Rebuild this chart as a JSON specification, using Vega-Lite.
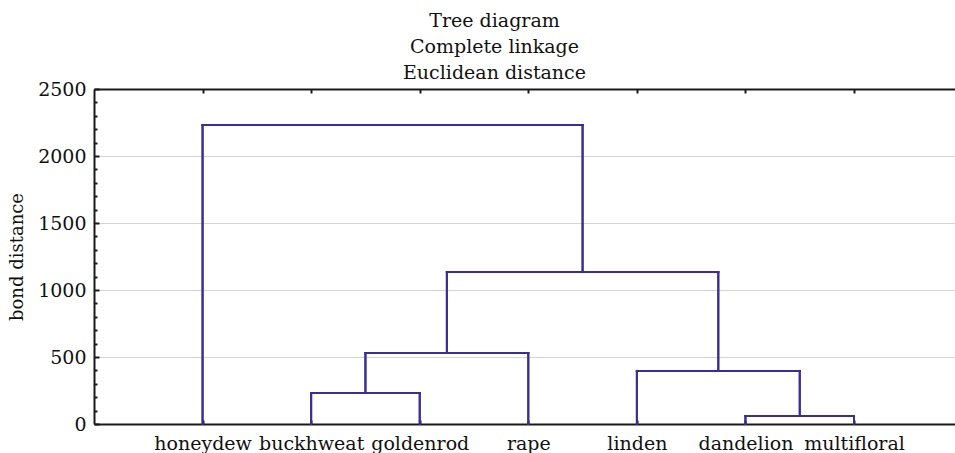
{
  "$schema": "https://vega.github.io/schema/vega-lite/v6.json",
  "width": 861,
  "height": 335,
  "autosize": {"type": "none"},
  "padding": {"left": 94, "top": 89, "right": 0, "bottom": 29},
  "background": "white",
  "config": {
    "font": "DejaVu Serif",
    "view": {"stroke": null},
    "axis": {"labelFont": "DejaVu Serif", "titleFont": "DejaVu Serif", "labelColor": "#111", "titleColor": "#111"}
  },
  "title": {
    "text": ["Tree diagram", "Complete linkage", "Euclidean distance"],
    "fontSize": 19,
    "fontWeight": "normal",
    "font": "DejaVu Serif",
    "color": "#111",
    "lineHeight": 26,
    "anchor": "middle",
    "dx": -30,
    "offset": -3
  },
  "data": {
    "values": [
      {"xa": 2, "ya": 0, "xb": 2, "yb": 231},
      {"xa": 3, "ya": 0, "xb": 3, "yb": 231},
      {"xa": 2, "ya": 231, "xb": 3, "yb": 231},
      {"xa": 2.5, "ya": 231, "xb": 2.5, "yb": 530},
      {"xa": 4, "ya": 0, "xb": 4, "yb": 530},
      {"xa": 2.5, "ya": 530, "xb": 4, "yb": 530},
      {"xa": 6, "ya": 0, "xb": 6, "yb": 60},
      {"xa": 7, "ya": 0, "xb": 7, "yb": 60},
      {"xa": 6, "ya": 60, "xb": 7, "yb": 60},
      {"xa": 5, "ya": 0, "xb": 5, "yb": 396},
      {"xa": 6.5, "ya": 60, "xb": 6.5, "yb": 396},
      {"xa": 5, "ya": 396, "xb": 6.5, "yb": 396},
      {"xa": 3.25, "ya": 530, "xb": 3.25, "yb": 1134},
      {"xa": 5.75, "ya": 396, "xb": 5.75, "yb": 1134},
      {"xa": 3.25, "ya": 1134, "xb": 5.75, "yb": 1134},
      {"xa": 1, "ya": 0, "xb": 1, "yb": 2231},
      {"xa": 4.5, "ya": 1134, "xb": 4.5, "yb": 2231},
      {"xa": 1, "ya": 2231, "xb": 4.5, "yb": 2231}
    ]
  },
  "resolve": {"axis": {"x": "independent", "y": "independent"}},
  "layer": [
    {
      "mark": {"type": "rule", "color": "#3a2e96", "strokeWidth": 2, "strokeCap": "square"},
      "encoding": {
        "x": {
          "field": "xa", "type": "quantitative",
          "scale": {"domain": [0, 7.93], "nice": false, "zero": false},
          "axis": {
            "orient": "bottom",
            "values": [1, 2, 3, 4, 5, 6, 7],
            "labelExpr": "['', 'honeydew', 'buckhweat', 'goldenrod', 'rape', 'linden', 'dandelion', 'multifloral'][datum.value]",
            "title": null,
            "grid": false,
            "tickSize": -4,
            "tickWidth": 2,
            "tickColor": "#1a1a1a",
            "domainColor": "#1a1a1a",
            "domainWidth": 2,
            "labelFontSize": 19,
            "labelPadding": 14,
            "labelFlush": false,
            "labelOverlap": false
          }
        },
        "x2": {"field": "xb"},
        "y": {
          "field": "ya", "type": "quantitative",
          "scale": {"domain": [0, 2500], "nice": false},
          "axis": {
            "orient": "left",
            "values": [0, 500, 1000, 1500, 2000, 2500],
            "format": "d",
            "title": "bond distance",
            "titleFontSize": 18,
            "titleFontWeight": "normal",
            "titlePadding": 11,
            "grid": true,
            "gridColor": "#d4d4d4",
            "gridWidth": 1,
            "tickSize": -5,
            "tickWidth": 2,
            "tickColor": "#1a1a1a",
            "domainColor": "#1a1a1a",
            "domainWidth": 2,
            "labelFontSize": 19,
            "labelPadding": 13,
            "labelFlush": false
          }
        },
        "y2": {"field": "yb"}
      }
    },
    {
      "mark": {"type": "rule", "color": "#3a2e96", "strokeWidth": 2, "strokeCap": "square"},
      "encoding": {
        "x": {
          "field": "xa", "type": "quantitative",
          "axis": {
            "orient": "top",
            "values": [1, 2, 3, 4, 5, 6, 7],
            "labels": false,
            "title": null,
            "grid": false,
            "tickSize": -4,
            "tickWidth": 2,
            "tickColor": "#1a1a1a",
            "domainColor": "#1a1a1a",
            "domainWidth": 2
          }
        },
        "x2": {"field": "xb"},
        "y": {
          "field": "ya", "type": "quantitative",
          "axis": {
            "orient": "left",
            "values": [100, 200, 300, 400, 600, 700, 800, 900, 1100, 1200, 1300, 1400, 1600, 1700, 1800, 1900, 2100, 2200, 2300, 2400],
            "labels": false,
            "title": null,
            "grid": false,
            "domain": false,
            "tickSize": -3,
            "tickWidth": 2,
            "tickColor": "#1a1a1a"
          }
        },
        "y2": {"field": "yb"}
      }
    }
  ]
}
